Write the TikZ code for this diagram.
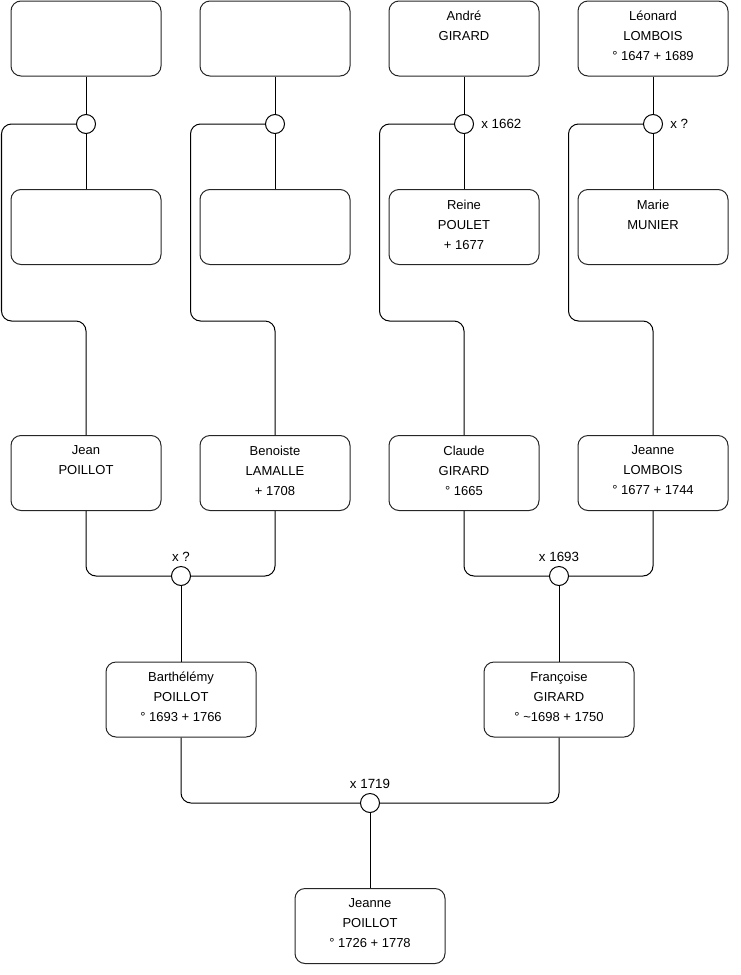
\documentclass[tikz,border=0pt]{standalone}
\usepackage{fontspec}
\setmainfont{Liberation Sans}
\usepackage{tikz}
\usetikzlibrary{positioning}
\tikzset{
    personne/.style={
        rectangle,
        draw=black!85,
        line width=0.75pt,
        rounded corners=7.5pt,
        align=center,
        minimum width=112.5pt,
        minimum height=56.25pt,
        inner sep=0pt,
        font=\fontsize{9.75}{15}\selectfont
    },
    mariage/.style={
        circle,
        draw,
        line width=0.75pt,
        fill=white,
        minimum size=14.25pt,
        inner sep=0pt,
        label distance=0pt,
        every label/.style={font=\fontsize{9.75}{11}\selectfont, inner sep=2.25pt}
    },
    lien/.style={line width=0.75pt, rounded corners=7.5pt}
}
% trois lignes, remontees comme dans l'original
\newcommand{\fiche}[3]{#1\\#2\\#3\rule[-4pt]{0pt}{4pt}}

\begin{document}
\begin{tikzpicture}[x=0.75pt, y=-0.75pt]
    \useasboundingbox (0,0) rectangle (740,975);

    % arriere-grands-parents
    \node[personne] (inconnu1) at (86,38.5) {};
    \node[personne] (inconnu3) at (275,38.5) {};
    \node[personne] (andre) at (464,38.5) {\fiche{André}{GIRARD}{}};
    \node[personne] (leonard) at (653,38.5) {\fiche{Léonard}{LOMBOIS}{° 1647 + 1689}};

    \node[mariage] (mJean) at (86,124) {};
    \node[mariage] (mBenoiste) at (275,124) {};
    \node[mariage, label={[label distance=2pt]right:x 1662}] (mClaude) at (464,124) {};
    \node[mariage, label={[label distance=2pt]right:x ?}] (mJeanneL) at (653,124) {};

    \node[personne] (inconnu2) at (86,227) {};
    \node[personne] (inconnu4) at (275,227) {};
    \node[personne] (reine) at (464,227) {\fiche{Reine}{POULET}{+ 1677}};
    \node[personne] (marie) at (653,227) {\fiche{Marie}{MUNIER}{}};

    % arriere-grands-parents directs
    \node[personne] (jean) at (86,473) {\fiche{Jean}{POILLOT}{}};
    \node[personne] (benoiste) at (275,473) {\fiche{Benoiste}{LAMALLE}{+ 1708}};
    \node[personne] (claude) at (464,473) {\fiche{Claude}{GIRARD}{° 1665}};
    \node[personne] (jeanneL) at (653,473) {\fiche{Jeanne}{LOMBOIS}{° 1677 + 1744}};

    \node[mariage, label=above:x ?] (mBarth) at (181,576) {};
    \node[mariage, label=above:x 1693] (mFrancoise) at (559,576) {};

    % parents
    \node[personne] (barth) at (181,699.5) {\fiche{Barthélémy}{POILLOT}{° 1693 + 1766}};
    \node[personne] (francoise) at (559,699.5) {\fiche{Françoise}{GIRARD}{° \textasciitilde1698 + 1750}};

    \node[mariage, label=above:x 1719] (mJeanneP) at (370,803) {};

    \node[personne] (jeanneP) at (370,926) {\fiche{Jeanne}{POILLOT}{° 1726 + 1778}};

    % liens
    \draw[lien] (inconnu1) -- (mJean) -- (inconnu2);
    \draw[lien] (inconnu3) -- (mBenoiste) -- (inconnu4);
    \draw[lien] (andre) -- (mClaude) -- (reine);
    \draw[lien] (leonard) -- (mJeanneL) -- (marie);

    \draw[lien] (mJean.west) -| (1.5,321) -| (jean.north);
    \draw[lien] (mBenoiste.west) -| (190.5,321) -| (benoiste.north);
    \draw[lien] (mClaude.west) -| (379.5,321) -| (claude.north);
    \draw[lien] (mJeanneL.west) -| (568.5,321) -| (jeanneL.north);

    \draw[lien] (jean.south) |- (mBarth.west);
    \draw[lien] (benoiste.south) |- (mBarth.east);
    \draw[lien] (claude.south) |- (mFrancoise.west);
    \draw[lien] (jeanneL.south) |- (mFrancoise.east);
    \draw[lien] (mBarth) -- (barth);
    \draw[lien] (mFrancoise) -- (francoise);

    \draw[lien] (barth.south) |- (mJeanneP.west);
    \draw[lien] (francoise.south) |- (mJeanneP.east);
    \draw[lien] (mJeanneP) -- (jeanneP);
\end{tikzpicture}
\end{document}
